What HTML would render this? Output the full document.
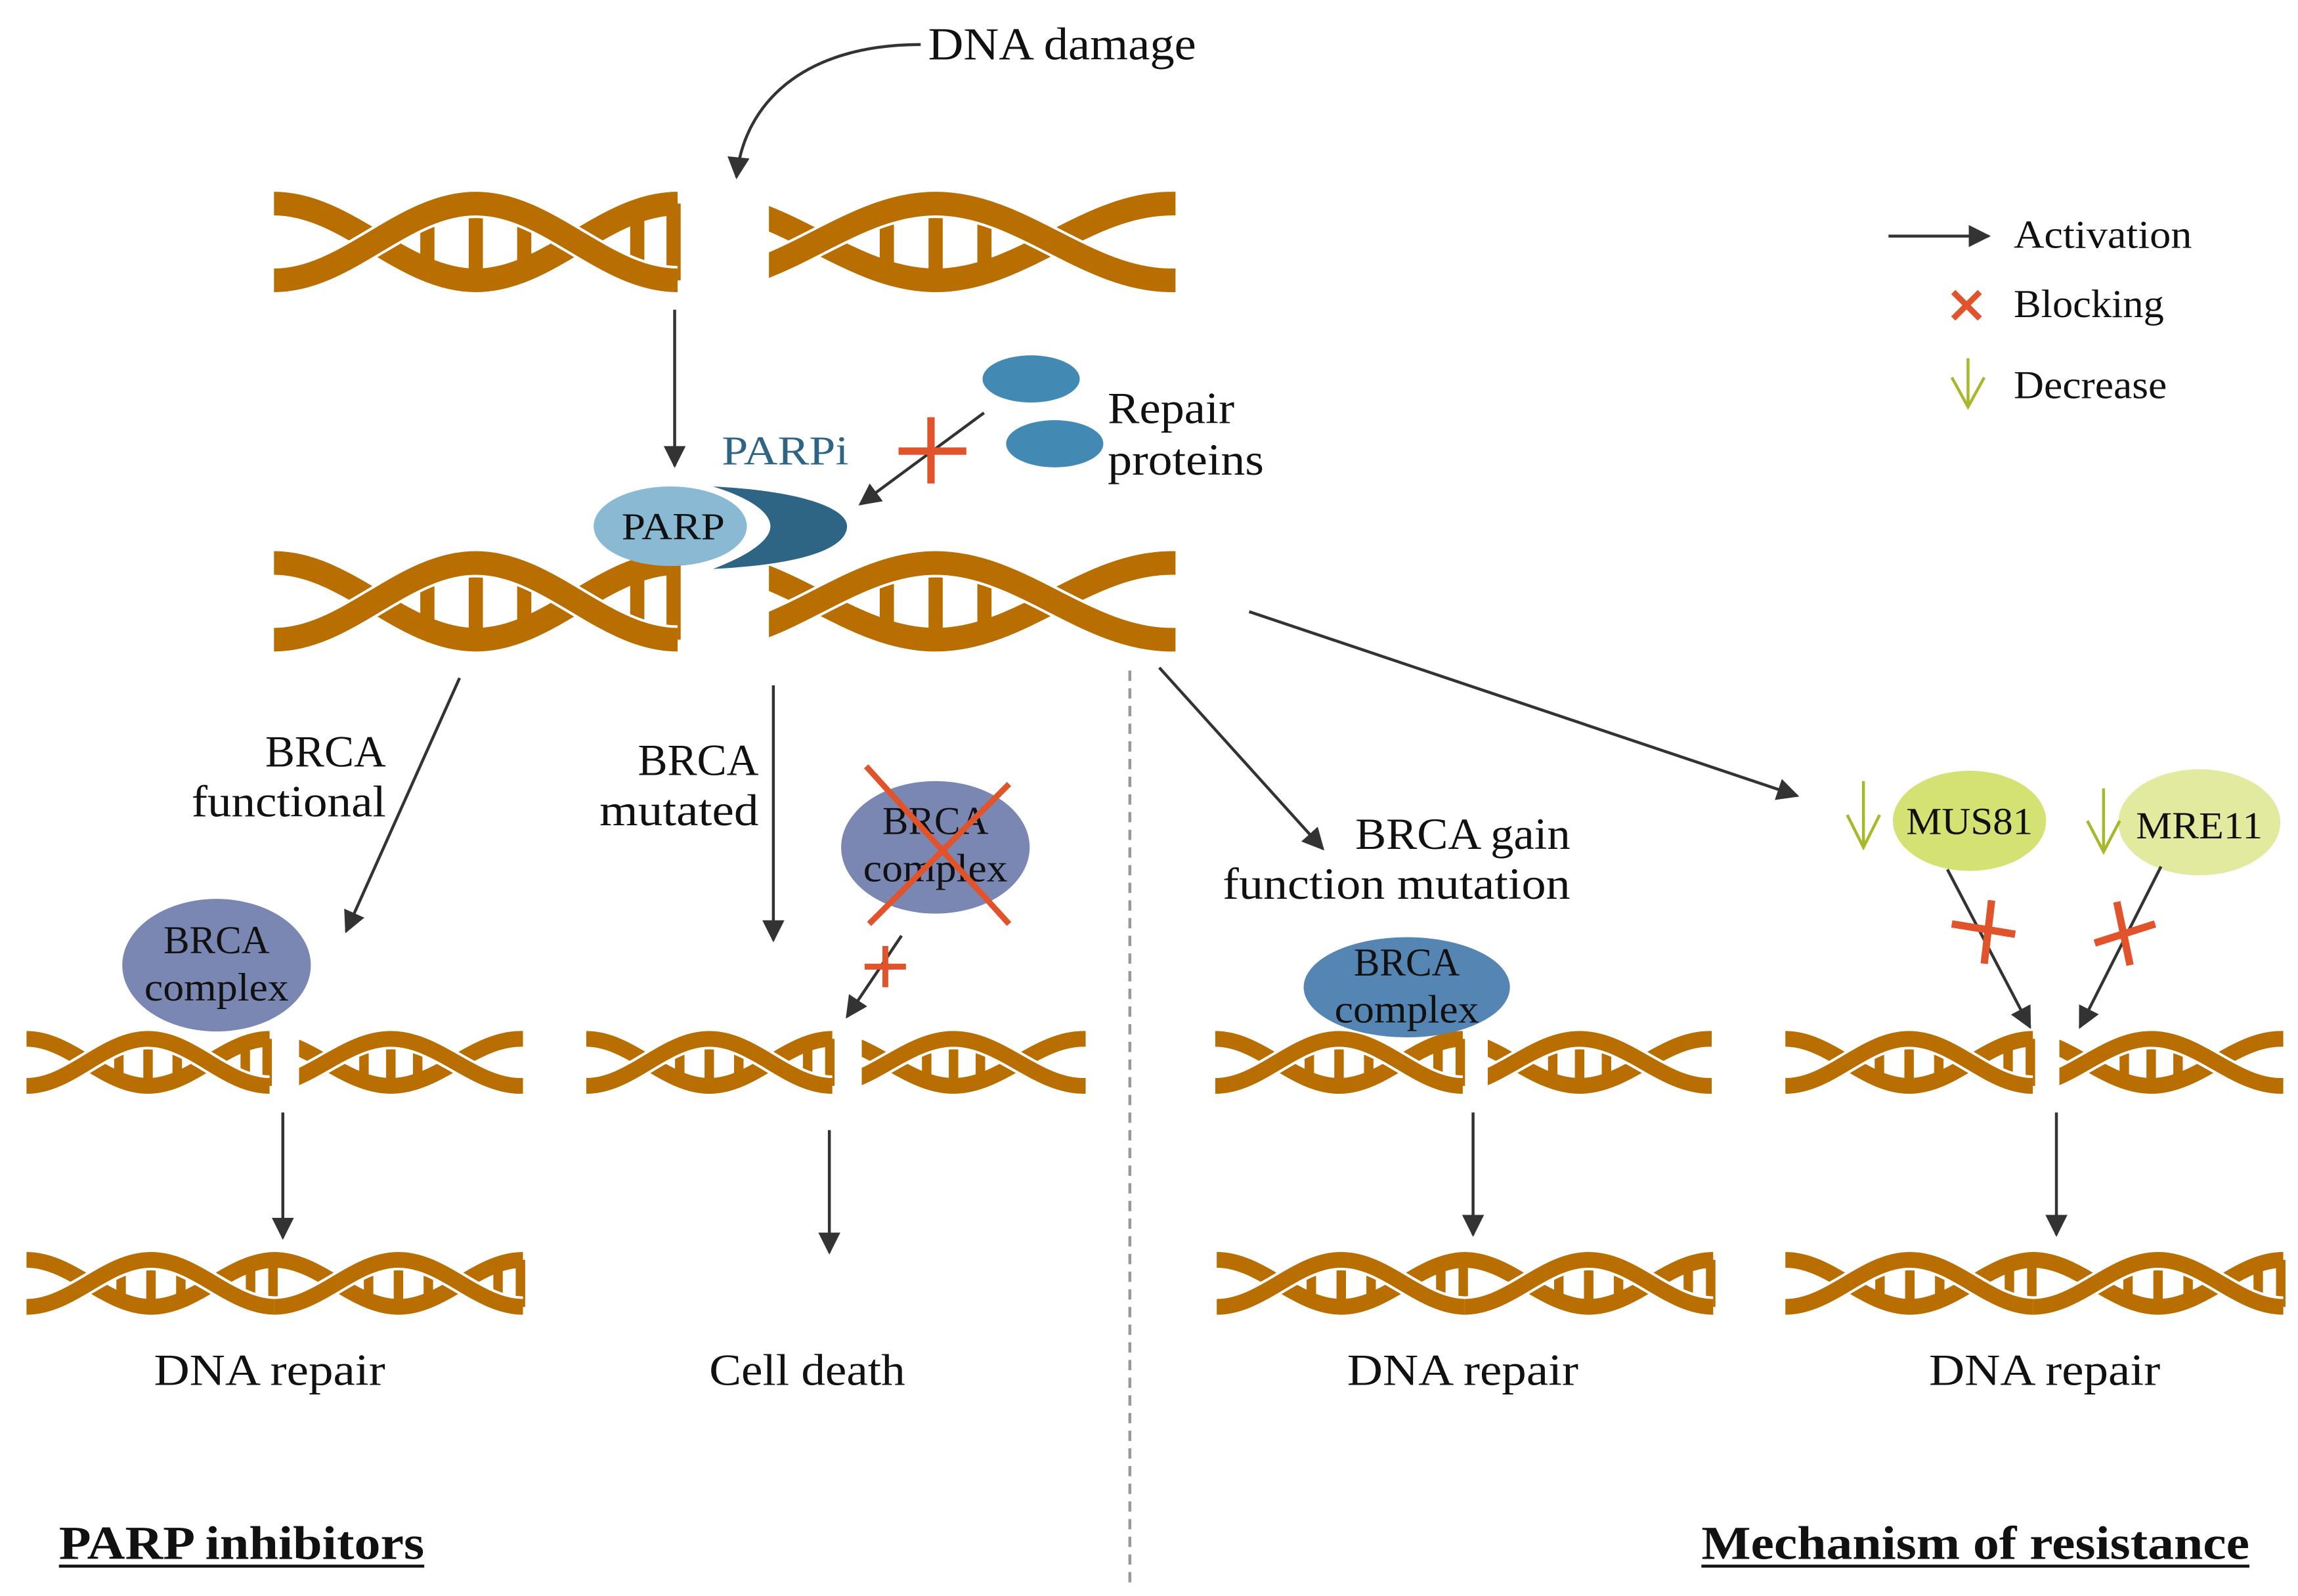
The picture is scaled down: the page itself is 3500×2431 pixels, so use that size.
<!DOCTYPE html>
<html><head><meta charset="utf-8"><style>
html,body{margin:0;padding:0;background:#fff;}
svg{display:block;}
text{font-family:"Liberation Serif",serif;fill:#111;}
</style></head><body>
<svg width="3500" height="2431" viewBox="0 0 1560 1083" xmlns="http://www.w3.org/2000/svg">
<defs>
<marker id="ah" viewBox="0 0 10 10" refX="9" refY="5" markerWidth="15" markerHeight="15" markerUnits="userSpaceOnUse" orient="auto">
<path d="M0,0 L10,5 L0,10 z" fill="#333"/></marker>
<clipPath id="cr" clipPathUnits="userSpaceOnUse"><rect x="0" y="-40" width="100" height="180"/></clipPath>
<symbol id="L" viewBox="0 0 100 100" preserveAspectRatio="none" overflow="visible">
<g fill="none" stroke-linecap="butt">
<g stroke="#b86e00" style="stroke-width:calc(var(--w)*0.6)">
<line x1="38" y1="19" x2="38" y2="81" vector-effect="non-scaling-stroke"/>
<line x1="50" y1="8" x2="50" y2="92" vector-effect="non-scaling-stroke"/>
<line x1="62" y1="18" x2="62" y2="82" vector-effect="non-scaling-stroke"/>
<line x1="90" y1="16" x2="90" y2="84" vector-effect="non-scaling-stroke"/>
<line x1="99" y1="8" x2="99" y2="92" vector-effect="non-scaling-stroke"/>
</g>
<path d="M0,8 C18.2,8 31.8,92 50,92 C68.2,92 81.8,8 100,8" stroke="#b86e00" style="stroke-width:var(--w)" vector-effect="non-scaling-stroke"/>
<path d="M0,92 C18.2,92 31.8,8 50,8 C68.2,8 81.8,92 100,92" stroke="#fff" style="stroke-width:calc(var(--w) + 8px)" vector-effect="non-scaling-stroke"/>
<path d="M0,92 C18.2,92 31.8,8 50,8 C68.2,8 81.8,92 100,92" stroke="#b86e00" style="stroke-width:var(--w)" vector-effect="non-scaling-stroke"/>
</g></symbol>
<symbol id="R" viewBox="0 0 100 100" preserveAspectRatio="none" overflow="visible">
<g fill="none" clip-path="url(#cr)">
<g stroke="#b86e00" style="stroke-width:calc(var(--w)*0.6)">
<line x1="29" y1="16" x2="29" y2="84" vector-effect="non-scaling-stroke"/>
<line x1="41" y1="8" x2="41" y2="92" vector-effect="non-scaling-stroke"/>
<line x1="53" y1="16" x2="53" y2="84" vector-effect="non-scaling-stroke"/>
</g>
<path d="M-17,8 C4.1,8 19.9,92 41,92 C62.1,92 77.9,8 99,8 L101,8" stroke="#b86e00" style="stroke-width:var(--w)" vector-effect="non-scaling-stroke"/>
<path d="M-17,92 C4.1,92 19.9,8 41,8 C62.1,8 77.9,92 99,92 L101,92" stroke="#fff" style="stroke-width:calc(var(--w) + 8px)" vector-effect="non-scaling-stroke"/>
<path d="M-17,92 C4.1,92 19.9,8 41,8 C62.1,8 77.9,92 99,92 L101,92" stroke="#b86e00" style="stroke-width:var(--w)" vector-effect="non-scaling-stroke"/>
</g></symbol>
</defs>

<!-- DNA damage -->
<text x="630" y="40" font-size="31" textLength="182" lengthAdjust="spacingAndGlyphs">DNA damage</text>
<path d="M625,30 C545,30 505,70 500,120" fill="none" stroke="#333" stroke-width="2" marker-end="url(#ah)"/>

<!-- top helices -->
<use href="#L" x="186" y="133" width="274" height="62" style="--w:36px"/>
<use href="#R" x="522" y="133" width="276" height="62" style="--w:36px"/>
<line x1="458" y1="210" x2="458" y2="316" stroke="#333" stroke-width="2" marker-end="url(#ah)"/>

<!-- middle helices -->
<use href="#L" x="186" y="377" width="274" height="62" style="--w:36px"/>
<use href="#R" x="522" y="377" width="276" height="62" style="--w:36px"/>

<!-- PARP -->
<path d="M484,330 C545,333 575,345 575,357 C575,372 545,383 484,386 C510,376 523,366 523,357 C523,348 510,338 484,330 z" fill="#2e6584"/>
<ellipse cx="455" cy="357" rx="52" ry="27" fill="#8ab9d4"/>
<text x="457" y="366" font-size="26" text-anchor="middle" textLength="70" lengthAdjust="spacingAndGlyphs">PARP</text>
<text x="490" y="315" font-size="28" style="fill:#2e6584" textLength="86" lengthAdjust="spacingAndGlyphs">PARPi</text>

<!-- repair proteins -->
<ellipse cx="700" cy="257" rx="33" ry="16" fill="#4289b4"/>
<ellipse cx="716" cy="301" rx="33" ry="16" fill="#4289b4"/>
<text x="752" y="287" font-size="30" textLength="86" lengthAdjust="spacingAndGlyphs">Repair</text>
<text x="752" y="322" font-size="30" textLength="106" lengthAdjust="spacingAndGlyphs">proteins</text>
<line x1="668" y1="280" x2="584" y2="342" stroke="#333" stroke-width="2" marker-end="url(#ah)"/>
<g stroke="#e0532b" stroke-width="5"><line x1="632" y1="283" x2="632" y2="328"/><line x1="610" y1="306" x2="656" y2="306"/></g>

<!-- legend -->
<line x1="1282" y1="160" x2="1350" y2="160" stroke="#333" stroke-width="2" marker-end="url(#ah)"/>
<text x="1367" y="168" font-size="27" textLength="121" lengthAdjust="spacingAndGlyphs">Activation</text>
<g stroke="#e0532b" stroke-width="4"><line x1="1326" y1="198" x2="1344" y2="216"/><line x1="1344" y1="198" x2="1326" y2="216"/></g>
<text x="1367" y="215" font-size="27" textLength="102" lengthAdjust="spacingAndGlyphs">Blocking</text>
<g stroke="#a8b82b" stroke-width="2" fill="none"><line x1="1336" y1="243" x2="1336" y2="276"/><path d="M1325,256 L1336,276 L1347,256"/></g>
<text x="1367" y="270" font-size="27" textLength="104" lengthAdjust="spacingAndGlyphs">Decrease</text>

<!-- dashed divider -->
<line x1="767" y1="455" x2="767" y2="1075" stroke="#999" stroke-width="2" stroke-dasharray="7,5"/>

<!-- column 1 -->
<line x1="312" y1="460" x2="235" y2="632" stroke="#333" stroke-width="2" marker-end="url(#ah)"/>
<text x="262" y="520" font-size="30" text-anchor="end" textLength="82" lengthAdjust="spacingAndGlyphs">BRCA</text>
<text x="262" y="554" font-size="30" text-anchor="end" textLength="132" lengthAdjust="spacingAndGlyphs">functional</text>
<ellipse cx="147" cy="655" rx="64" ry="45" fill="#7b87b3"/>
<text x="147" y="647" font-size="27" text-anchor="middle" textLength="72" lengthAdjust="spacingAndGlyphs">BRCA</text>
<text x="147" y="679" font-size="27" text-anchor="middle" textLength="98" lengthAdjust="spacingAndGlyphs">complex</text>
<use href="#L" x="18" y="702" width="165" height="38" style="--w:24px"/>
<use href="#R" x="203" y="702" width="152" height="38" style="--w:24px"/>
<line x1="192" y1="755" x2="192" y2="840" stroke="#333" stroke-width="2" marker-end="url(#ah)"/>
<use href="#L" x="18" y="852" width="169" height="38" style="--w:24px"/>
<use href="#L" x="186" y="852" width="169" height="38" style="--w:24px"/>
<text x="183" y="940" font-size="30" text-anchor="middle" textLength="157" lengthAdjust="spacingAndGlyphs">DNA repair</text>

<!-- column 2 -->
<line x1="525" y1="465" x2="525" y2="638" stroke="#333" stroke-width="2" marker-end="url(#ah)"/>
<text x="515" y="526" font-size="30" text-anchor="end" textLength="82" lengthAdjust="spacingAndGlyphs">BRCA</text>
<text x="515" y="560" font-size="30" text-anchor="end" textLength="108" lengthAdjust="spacingAndGlyphs">mutated</text>
<ellipse cx="635" cy="575" rx="64" ry="45" fill="#7b87b3"/>
<text x="635" y="566" font-size="27" text-anchor="middle" textLength="72" lengthAdjust="spacingAndGlyphs">BRCA</text>
<text x="635" y="598" font-size="27" text-anchor="middle" textLength="98" lengthAdjust="spacingAndGlyphs">complex</text>
<g stroke="#e0532b" stroke-width="4"><line x1="588" y1="520" x2="685" y2="627"/><line x1="685" y1="532" x2="590" y2="627"/></g>
<line x1="612" y1="635" x2="575" y2="690" stroke="#333" stroke-width="2" marker-end="url(#ah)"/>
<g stroke="#e0532b" stroke-width="4"><line x1="601" y1="642" x2="601" y2="670"/><line x1="587" y1="656" x2="615" y2="656"/></g>
<use href="#L" x="398" y="702" width="167" height="38" style="--w:24px"/>
<use href="#R" x="585" y="702" width="152" height="38" style="--w:24px"/>
<line x1="563" y1="767" x2="563" y2="850" stroke="#333" stroke-width="2" marker-end="url(#ah)"/>
<text x="548" y="940" font-size="30" text-anchor="middle" textLength="133" lengthAdjust="spacingAndGlyphs">Cell death</text>

<!-- column 3 -->
<line x1="787" y1="453" x2="898" y2="576" stroke="#333" stroke-width="2" marker-end="url(#ah)"/>
<text x="920" y="576" font-size="30" textLength="146" lengthAdjust="spacingAndGlyphs">BRCA gain</text>
<text x="948" y="610" font-size="30" text-anchor="middle" textLength="236" lengthAdjust="spacingAndGlyphs">function mutation</text>
<use href="#L" x="825" y="702" width="168" height="38" style="--w:24px"/>
<use href="#R" x="1010" y="702" width="152" height="38" style="--w:24px"/>
<ellipse cx="955" cy="670" rx="70" ry="34" fill="#5585b3"/>
<text x="955" y="662" font-size="27" text-anchor="middle" textLength="72" lengthAdjust="spacingAndGlyphs">BRCA</text>
<text x="955" y="694" font-size="27" text-anchor="middle" textLength="98" lengthAdjust="spacingAndGlyphs">complex</text>
<line x1="1000" y1="755" x2="1000" y2="838" stroke="#333" stroke-width="2" marker-end="url(#ah)"/>
<use href="#L" x="826" y="852" width="169" height="38" style="--w:24px"/>
<use href="#L" x="994" y="852" width="169" height="38" style="--w:24px"/>
<text x="993" y="940" font-size="30" text-anchor="middle" textLength="157" lengthAdjust="spacingAndGlyphs">DNA repair</text>

<!-- column 4 -->
<line x1="848" y1="415" x2="1220" y2="540" stroke="#333" stroke-width="2" marker-end="url(#ah)"/>
<ellipse cx="1337" cy="557" rx="52" ry="34" fill="#d4e173"/>
<text x="1337" y="566" font-size="26" text-anchor="middle" textLength="86" lengthAdjust="spacingAndGlyphs">MUS81</text>
<ellipse cx="1493" cy="558" rx="55" ry="36" fill="#e2ea9f"/>
<text x="1493" y="569" font-size="26" text-anchor="middle" textLength="86" lengthAdjust="spacingAndGlyphs">MRE11</text>
<g stroke="#a8b82b" stroke-width="2" fill="none">
<line x1="1265" y1="530" x2="1265" y2="575"/><path d="M1254,553 L1265,575 L1276,553"/>
<line x1="1428" y1="535" x2="1428" y2="578"/><path d="M1417,557 L1428,578 L1439,557"/>
</g>
<line x1="1322" y1="590" x2="1378" y2="697" stroke="#333" stroke-width="2" marker-end="url(#ah)"/>
<line x1="1467" y1="588" x2="1412" y2="697" stroke="#333" stroke-width="2" marker-end="url(#ah)"/>
<g stroke="#e0532b" stroke-width="5">
<line x1="1352" y1="611" x2="1347" y2="654"/><line x1="1325" y1="627" x2="1368" y2="634"/>
<line x1="1437" y1="612" x2="1446" y2="655"/><line x1="1422" y1="640" x2="1463" y2="627"/>
</g>
<use href="#L" x="1212" y="702" width="168" height="38" style="--w:24px"/>
<use href="#R" x="1398" y="702" width="152" height="38" style="--w:24px"/>
<line x1="1396" y1="755" x2="1396" y2="838" stroke="#333" stroke-width="2" marker-end="url(#ah)"/>
<use href="#L" x="1212" y="852" width="169" height="38" style="--w:24px"/>
<use href="#L" x="1380" y="852" width="170" height="38" style="--w:24px"/>
<text x="1388" y="940" font-size="30" text-anchor="middle" textLength="157" lengthAdjust="spacingAndGlyphs">DNA repair</text>

<!-- titles -->
<text x="40" y="1058" font-size="32" font-weight="bold" textLength="248" lengthAdjust="spacingAndGlyphs">PARP inhibitors</text>
<line x1="40" y1="1063" x2="288" y2="1063" stroke="#111" stroke-width="2"/>
<text x="1155" y="1058" font-size="32" font-weight="bold" textLength="372" lengthAdjust="spacingAndGlyphs">Mechanism of resistance</text>
<line x1="1155" y1="1063" x2="1527" y2="1063" stroke="#111" stroke-width="2"/>
</svg>
</body></html>
